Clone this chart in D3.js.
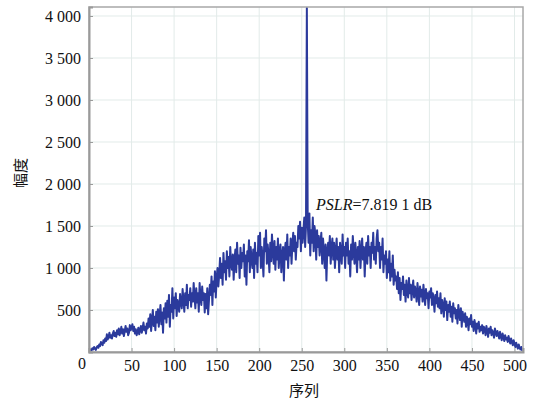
<!DOCTYPE html>
<html>
<head>
<meta charset="utf-8">
<script src="https://cdn.jsdelivr.net/npm/d3@7"></script>
<style>
  html, body { margin: 0; padding: 0; background: #fff; }
  svg { display: block; }
  .serif text, text.serif { font-family: "Liberation Serif", "Times New Roman", serif; }
</style>
</head>
<body>
<svg id="chart" width="537" height="403"></svg>
<script>
// Correlation amplitude for lags 1..511 (main peak at lag 256)
const amplitude = [
  10, 30, 20, 45, 30, 60, 40, 25, 55, 70,
  50, 90, 70, 120, 95, 80, 140, 110, 160, 130,
  210, 150, 180, 230, 170, 200, 160, 220, 250, 190,
  230, 180, 260, 210, 280, 200, 240, 300, 220, 270,
  190, 250, 310, 240, 280, 200, 230, 320, 260, 290,
  330, 250, 300, 220, 270, 200, 240, 290, 210, 260,
  310, 230, 280, 350, 260, 300, 220, 340, 280, 400,
  300, 450, 250, 380, 500, 310, 420, 260, 480, 350,
  510, 300, 440, 560, 330, 470, 230, 520, 400, 580,
  350, 610, 420, 680, 300, 560, 480, 760, 400, 650,
  520, 700, 430, 620, 560, 480, 690, 600, 520, 750,
  620, 480, 700, 560, 800, 520, 680, 620, 760, 540,
  700, 600, 820, 650, 520, 760, 590, 700, 480, 820,
  640, 560, 780, 620, 700, 470, 690, 520, 760, 450,
  620, 800, 680, 900, 560, 840, 720, 960, 650, 880,
  1000, 780, 920, 1120, 880, 1050, 800, 1180, 950, 1080,
  860, 1200, 1000, 1130, 900, 1250, 1050, 980, 1160, 860,
  1100, 1220, 950, 1300, 1050, 1150, 880, 1240, 1000, 1180,
  1080, 1280, 900, 1150, 800, 1200, 1080, 1330, 950, 1250,
  1100, 1000, 1220, 880, 1300, 1050, 1180, 950, 1380, 1150,
  1420, 1000, 1250, 1100, 900, 1350, 1200, 1450, 1050, 1280,
  1150, 950, 1300, 1080, 1400, 1200, 1050, 1320, 980, 1250,
  1100, 1350, 1000, 1200, 1280, 950, 1150, 1250, 850, 1200,
  1300, 1100, 1400, 1000, 1250, 1150, 1350, 1050, 1280, 1420,
  1200, 1380, 1100, 1300, 1250, 1500, 1350, 1550, 1200, 1480,
  1300, 1450, 1600, 1250, 1500, 4096,
  1550, 1300, 1650, 1150, 1450, 1300, 1600, 1200, 1500, 1400, 1100, 1450, 1250, 1380,
  1150, 1300, 1420, 1050, 1350, 1200, 1000, 1280, 850, 1200,
  1300, 1150, 1380, 1050, 1250, 1350, 1100, 1300, 1000, 1200,
  1350, 1100, 1250, 950, 1300, 1180, 1050, 1400, 1150, 1250,
  1000, 1300, 1150, 1350, 1050, 1200, 900, 1280, 1100, 1380,
  1200, 1050, 1300, 1150, 950, 1250, 1100, 1320, 1000, 1200,
  1350, 1100, 1250, 900, 1200, 1300, 1050, 1380, 1150, 1250,
  1000, 1300, 1180, 1420, 1100, 1250, 1050, 1350, 1450, 1200,
  1300, 1000, 1250, 1100, 1350, 950, 1150, 1050, 1200, 880,
  1100, 950, 1200, 850, 1050, 900, 1150, 800, 980, 850,
  900, 750, 950, 700, 880, 620, 820, 750, 900, 680,
  800, 600, 850, 720, 650, 880, 700, 800, 620, 760,
  850, 650, 780, 720, 600, 820, 700, 560, 780, 660,
  740, 600, 800, 680, 560, 750, 640, 700, 520, 720,
  650, 760, 560, 700, 620, 480, 680, 580, 720, 540,
  640, 520, 700, 460, 620, 560, 420, 640, 500, 600,
  380, 560, 480, 600, 420, 540, 360, 580, 460, 520,
  400, 500, 340, 560, 450, 380, 520, 300, 480, 420,
  360, 460, 300, 420, 380, 260, 400, 330, 440, 300,
  360, 250, 380, 320, 220, 340, 280, 360, 240, 300,
  260, 320, 220, 300, 270, 200, 310, 250, 180, 280,
  230, 300, 200, 260, 220, 170, 280, 230, 190, 250,
  210, 160, 240, 190, 140, 220, 180, 130, 200, 150,
  170, 120, 190, 140, 100, 160, 120, 80, 140, 100,
  60, 110, 70, 40, 90, 50, 30, 60, 20, 10, 5
];
const xTicks = [0, 50, 100, 150, 200, 250, 300, 350, 400, 450, 500];
const yTicks = [0, 500, 1000, 1500, 2000, 2500, 3000, 3500, 4000];
const xLabel = "序列";
const yLabel = "幅度";
const pslrName = "PSLR";
const pslrValue = "=7.819 1 dB";

const serif = "'Liberation Serif', 'Times New Roman', serif";
const svg = d3.select("#chart");
const margin = { left: 89, top: 7, right: 14, bottom: 51 };
const W = 537, H = 403;
const iw = W - margin.left - margin.right;
const ih = H - margin.top - margin.bottom;

const x = d3.scaleLinear().domain([0, 510]).range([0, iw]);
const y = d3.scaleLinear().domain([0, 4107]).range([ih, 0]);

const g = svg.append("g").attr("transform", `translate(${margin.left},${margin.top})`);

// grid
g.append("g").selectAll("line").data(xTicks.filter(d => d > 0)).join("line")
  .attr("x1", d => x(d)).attr("x2", d => x(d)).attr("y1", 0).attr("y2", ih)
  .attr("stroke", "#e2ebe9").attr("stroke-width", 1);
g.append("g").selectAll("line").data(yTicks.filter(d => d > 0)).join("line")
  .attr("x1", 0).attr("x2", iw).attr("y1", d => y(d)).attr("y2", d => y(d))
  .attr("stroke", "#e2ebe9").attr("stroke-width", 1);

// series
const series = amplitude.map((v, i) => [i + 1, v]);
svg.append("defs").append("clipPath").attr("id", "clip")
  .append("rect").attr("width", iw).attr("height", ih + 1);
g.append("path")
  .datum(series)
  .attr("clip-path", "url(#clip)")
  .attr("fill", "none")
  .attr("stroke", "#2b3a9c")
  .attr("stroke-width", 2)
  .attr("stroke-linejoin", "round")
  .attr("d", d3.line().x(d => x(d[0])).y(d => y(d[1])));

// frame
g.append("rect").attr("width", iw).attr("height", ih)
  .attr("fill", "none").attr("stroke", "#a8a8a8").attr("stroke-width", 1.5);

// axes
const xAxis = d3.axisBottom(x).tickValues(xTicks).tickSize(-4).tickPadding(8)
  .tickFormat(d => d === 0 ? "" : d);
const yAxis = d3.axisLeft(y).tickValues(yTicks).tickSize(-4).tickPadding(8)
  .tickFormat(d => d === 0 ? "" : d3.format(",")(d).replace(",", " "));

const gx = g.append("g").attr("transform", `translate(0,${ih})`).call(xAxis);
const gy = g.append("g").call(yAxis);
[gx, gy].forEach(a => {
  a.attr("font-family", serif).attr("font-size", 16);
  a.select(".domain").attr("stroke", "#9a9a9a").attr("stroke-width", 2);
  a.selectAll(".tick line").attr("stroke", "#9a9a9a");
  a.selectAll("text").attr("fill", "#111")
    .attr("font-family", serif).style("font-family", serif)
    .style("font-size", "16px");
});

// origin label
g.append("text").attr("x", -3).attr("y", ih + 17).attr("text-anchor", "end")
  .attr("font-family", serif).style("font-family", serif).style("font-size", "16px")
  .attr("fill", "#111").text("0");

// axis titles
svg.append("text")
  .attr("transform", "translate(26,173) rotate(-90)")
  .attr("text-anchor", "middle")
  .style("font-family", "'Noto Sans CJK SC', sans-serif")
  .style("font-size", "15px").attr("fill", "#111").text(yLabel);
svg.append("text")
  .attr("x", 304).attr("y", 396).attr("text-anchor", "middle")
  .style("font-family", "'Noto Sans CJK SC', sans-serif")
  .style("font-size", "15px").attr("fill", "#111").text(xLabel);

// annotation
const ann = svg.append("text").attr("x", 316).attr("y", 210)
  .style("font-family", serif)
  .style("font-size", "16px").attr("fill", "#111");
ann.append("tspan").style("font-style", "italic").text(pslrName);
ann.append("tspan").text(pslrValue);
</script>
</body>
</html>
